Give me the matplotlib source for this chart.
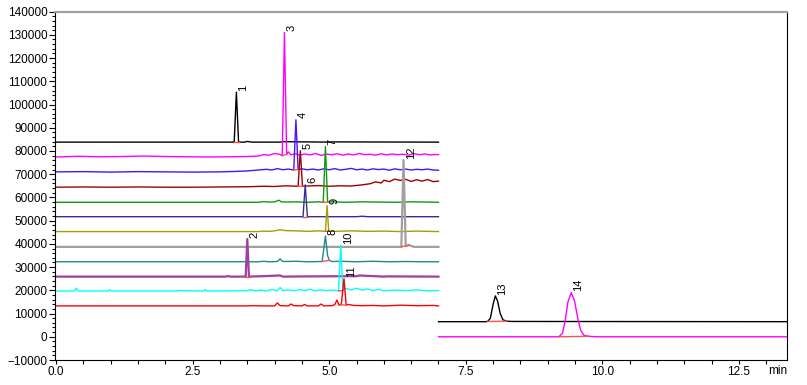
import matplotlib
matplotlib.use("Agg")
import matplotlib.pyplot as plt
from matplotlib.ticker import MultipleLocator, FuncFormatter
import numpy as np

# stacked chromatograms, one per compound (retention time in min, response)
t_p1 = [0.0, 3.26, 3.30, 3.34, 3.45, 3.5, 3.55, 3.6, 4.1, 4.15, 5.0, 5.05, 7.0]
v_p1 = [83800, 83800, 105300, 83800, 83800, 84100, 83900, 83800, 83800, 84000, 83800, 83900, 83800]

t_p3 = [0.0, 0.4, 0.8, 1.2, 1.6, 2.0, 2.4, 2.8, 3.2, 3.5, 3.7, 3.8, 3.9, 4.0, 4.08, 4.14, 4.18,
        4.22, 4.25, 4.3, 4.38, 4.46, 4.55, 4.65, 4.75, 4.85, 4.95, 5.05, 5.15, 5.25, 5.35, 5.45,
        5.55, 5.65, 5.75, 5.85, 5.95, 6.05, 6.15, 6.25, 6.35, 6.45, 6.55, 6.65, 6.75, 6.85, 6.95, 7.0]
v_p3 = [77400, 77700, 77500, 77600, 77800, 77600, 77500, 77400, 77500, 77600, 77800, 78400, 78200,
        78900, 78600, 78000, 131000, 78500, 79600, 78300, 78800, 78200, 78700, 78300, 78900, 78100,
        78600, 78400, 78800, 78200, 78700, 78300, 78900, 78400, 78600, 78200, 78800, 78300, 78700,
        78400, 78600, 78200, 78800, 78400, 78700, 78300, 78500, 78400]

t_p4 = [0.0, 0.5, 1.0, 1.5, 2.0, 2.5, 3.0, 3.3, 3.5, 3.7, 3.85, 3.95, 4.05, 4.15, 4.25, 4.35, 4.39,
        4.43, 4.5, 4.6, 4.7, 4.8, 4.9, 5.0, 5.1, 5.2, 5.3, 5.4, 5.5, 5.6, 5.7, 5.8, 5.9, 6.0, 6.1,
        6.2, 6.3, 6.4, 6.5, 6.6, 6.7, 6.8, 6.9, 7.0]
v_p4 = [71000, 71100, 70900, 71100, 71000, 70900, 71000, 71200, 71400, 71800, 72100, 71800, 72400,
        71900, 72200, 71800, 93400, 72000, 72300, 71900, 72200, 71800, 72300, 71900, 72400, 71800,
        72100, 72500, 71900, 72200, 71800, 72300, 72000, 72200, 71700, 72300, 71900, 72200, 71800,
        72100, 71900, 72200, 71800, 71700]

t_p5 = [0.0, 0.5, 1.0, 1.5, 2.0, 2.5, 3.0, 3.5, 3.8, 4.0, 4.2, 4.43, 4.47, 4.51, 4.6, 4.8, 5.0, 5.2,
        5.4, 5.6, 5.75, 5.85, 5.95, 6.0, 6.1, 6.2, 6.3, 6.4, 6.5, 6.6, 6.7, 6.8, 6.9, 7.0]
v_p5 = [64400, 64500, 64400, 64500, 64400, 64400, 64500, 64600, 64800, 64700, 65000, 64800, 80100,
        64900, 64900, 65100, 64800, 65000, 64900, 65400, 65900, 66700, 66200, 67400, 66800, 67900,
        67300, 67800, 66900, 67600, 67000, 67700, 66800, 67000]

t_p7 = [0.0, 1.0, 2.0, 3.0, 3.7, 3.8, 3.9, 4.0, 4.08, 4.12, 4.2, 4.4, 4.6, 4.8, 4.89, 4.93, 4.97,
        5.05, 5.3, 5.6, 5.9, 6.2, 6.5, 6.8, 7.0]
v_p7 = [57900, 57900, 57900, 57900, 57900, 58200, 58000, 58100, 58800, 58100, 58000, 58100, 57900,
        58100, 57900, 81900, 58000, 58100, 57900, 58100, 58000, 57900, 58100, 58000, 57900]

t_p6 = [0.0, 4.52, 4.56, 4.60, 5.5, 5.6, 5.7, 7.0]
v_p6 = [51700, 51700, 65400, 51700, 51700, 51900, 51700, 51700]

t_p9 = [0.0, 3.7, 3.8, 3.9, 4.0, 4.1, 4.2, 4.4, 4.6, 4.8, 4.93, 4.96, 4.99, 5.1, 5.4, 5.7, 6.0,
        6.3, 6.6, 7.0]
v_p9 = [45300, 45300, 45500, 45400, 45600, 46100, 45700, 45600, 45400, 45600, 45400, 56500, 45500,
        45400, 45600, 45400, 45500, 45300, 45500, 45300]

t_p12 = [0.0, 6.32, 6.36, 6.40, 6.46, 6.55, 7.0]
v_p12 = [38700, 38700, 76100, 39000, 39500, 38700, 38700]

t_p8 = [0.0, 3.7, 3.8, 3.9, 4.05, 4.1, 4.15, 4.4, 4.6, 4.87, 4.93, 4.97, 5.0, 5.05, 5.2, 5.5, 5.8,
        6.1, 6.4, 6.7, 7.0]
v_p8 = [32300, 32300, 32500, 32300, 32400, 33500, 32400, 32500, 32300, 32400, 43400, 35000, 32900,
        32400, 32500, 32300, 32500, 32300, 32400, 32300, 32300]

t_p2 = [0.0, 3.1, 3.15, 3.2, 3.47, 3.50, 3.53, 3.8, 4.1, 4.15, 4.6, 5.5, 5.55, 6.0, 6.05, 7.0]
v_p2 = [25900, 25900, 26100, 25900, 25900, 42100, 25900, 26100, 26400, 25900, 26000, 26100, 26400,
        25900, 26000, 25900]

t_p10 = [0.0, 0.33, 0.37, 0.41, 0.95, 0.98, 1.02, 2.2, 2.25, 2.7, 2.73, 2.77, 3.5, 3.55, 3.65, 3.75,
         3.85, 3.95, 4.05, 4.1, 4.15, 4.25, 4.35, 4.45, 4.55, 4.65, 4.75, 4.85, 4.95, 5.05, 5.17,
         5.21, 5.25, 5.3, 5.4, 5.5, 5.6, 5.7, 5.8, 5.9, 6.0, 6.2, 6.4, 6.6, 6.8, 7.0]
v_p10 = [19700, 19700, 20900, 19700, 19700, 20300, 19700, 19700, 19900, 19700, 20300, 19700, 19800,
         20300, 19800, 20100, 19700, 20400, 19800, 21200, 19900, 20200, 19800, 20300, 19900, 20500,
         19800, 20200, 19900, 20100, 19800, 39500, 19900, 20800, 20200, 20900, 20100, 20600, 19900,
         20400, 19800, 20100, 19900, 20200, 19800, 19900]

t_p11 = [0.0, 3.5, 3.6, 3.8, 4.0, 4.05, 4.1, 4.25, 4.3, 4.35, 4.5, 4.55, 4.6, 4.8, 4.85, 4.9, 5.05,
         5.1, 5.14, 5.18, 5.22, 5.27, 5.31, 5.35, 5.45, 5.6, 5.8, 6.0, 6.3, 6.6, 6.9, 7.0]
v_p11 = [13300, 13300, 13400, 13300, 13300, 14600, 13400, 13300, 14100, 13400, 13300, 13900, 13300,
         13300, 14100, 13300, 13400, 13800, 15800, 13600, 13800, 25000, 13600, 13900, 13500, 13400,
         13500, 13300, 13600, 13400, 13500, 13300]

t_p13 = [7.0, 7.85, 7.9, 7.95, 8.0, 8.04, 8.08, 8.13, 8.18, 8.25, 8.35, 13.4]
v_p13 = [6500, 6500, 6600, 8000, 14000, 17600, 15500, 10000, 7300, 6700, 6600, 6500]

t_p14 = [7.0, 9.2, 9.27, 9.32, 9.37, 9.43, 9.49, 9.55, 9.6, 9.66, 9.75, 9.9, 13.4]
v_p14 = [0, 0, 1500, 7000, 15000, 19000, 15500, 8000, 3000, 700, 200, 0, 0]

peak_names = ["1", "3", "4", "5", "7", "6", "9", "12", "8", "2", "10", "11", "13", "14"]
times = [t_p1, t_p3, t_p4, t_p5, t_p7, t_p6, t_p9, t_p12, t_p8, t_p2, t_p10, t_p11, t_p13, t_p14]
values = [v_p1, v_p3, v_p4, v_p5, v_p7, v_p6, v_p9, v_p12, v_p8, v_p2, v_p10, v_p11, v_p13, v_p14]
colors = ["black", "#ff00ff", "#4a14ff", "#a00000", "#119911", "#303098", "#a0a000", "#a0a0a0",
          "#208a8a", "#a040a0", "#00ffff", "#ff0000", "black", "#ff00ff"]

# integration baselines (start, end) of each peak
base_t0 = [3.26, 4.14, 4.35, 4.43, 4.89, 4.52, 4.93, 6.32, 4.87, 3.47, 5.17, 5.22, 7.9, 9.2]
base_t1 = [3.34, 4.22, 4.43, 4.51, 4.97, 4.60, 4.99, 6.46, 5.00, 3.53, 5.25, 5.31, 8.25, 9.75]

plt.rcParams["font.family"] = ["Liberation Sans", "DejaVu Sans"]

fig = plt.figure(figsize=(8.07, 3.85), dpi=100)
ax = fig.add_axes([0.0682, 0.0649, 0.907, 0.905])

for name, t, v, c, b0, b1 in zip(peak_names, times, values, colors, base_t0, base_t1):
    lw = 1.6 if c in ("#a0a0a0", "#a040a0") else 1.0
    ax.plot(t, v, color=c, lw=lw)
    i = int(np.argmax(v))
    ax.plot([b0, b1], [np.interp(b0, t, v), np.interp(b1, t, v)], color="#ff5050", lw=1.0)
    ax.annotate(name, (t[i], v[i]), xytext=(1.5, 1), textcoords="offset points",
                rotation=90, ha="left", va="bottom", fontsize=8)

ax.set_xlim(-0.02, 13.38)
ax.set_ylim(-10000, 140000)
ax.xaxis.set_major_locator(MultipleLocator(2.5))
ax.xaxis.set_minor_locator(MultipleLocator(0.5))
ax.yaxis.set_major_locator(MultipleLocator(10000))
ax.yaxis.set_minor_locator(MultipleLocator(2000))
ax.xaxis.set_major_formatter(FuncFormatter(lambda x, p: f"{x:.1f}" if x < 13 else ""))
ax.tick_params(axis="both", which="both", direction="out", labelsize=8.5, width=0.8, pad=1.5)
ax.tick_params(axis="y", which="major", length=4)
ax.tick_params(axis="y", which="minor", length=2.5)
ax.tick_params(axis="x", which="both", length=3)

ax.spines["top"].set_color("#a0a0a0")
ax.spines["top"].set_linewidth(1.6)
for s in ("left", "bottom", "right"):
    ax.spines[s].set_linewidth(0.8)

ax.text(1.0, -0.032, "min", transform=ax.transAxes, ha="right", va="center", fontsize=8.5)

plt.savefig("out.png", dpi=100)
plt.close()
